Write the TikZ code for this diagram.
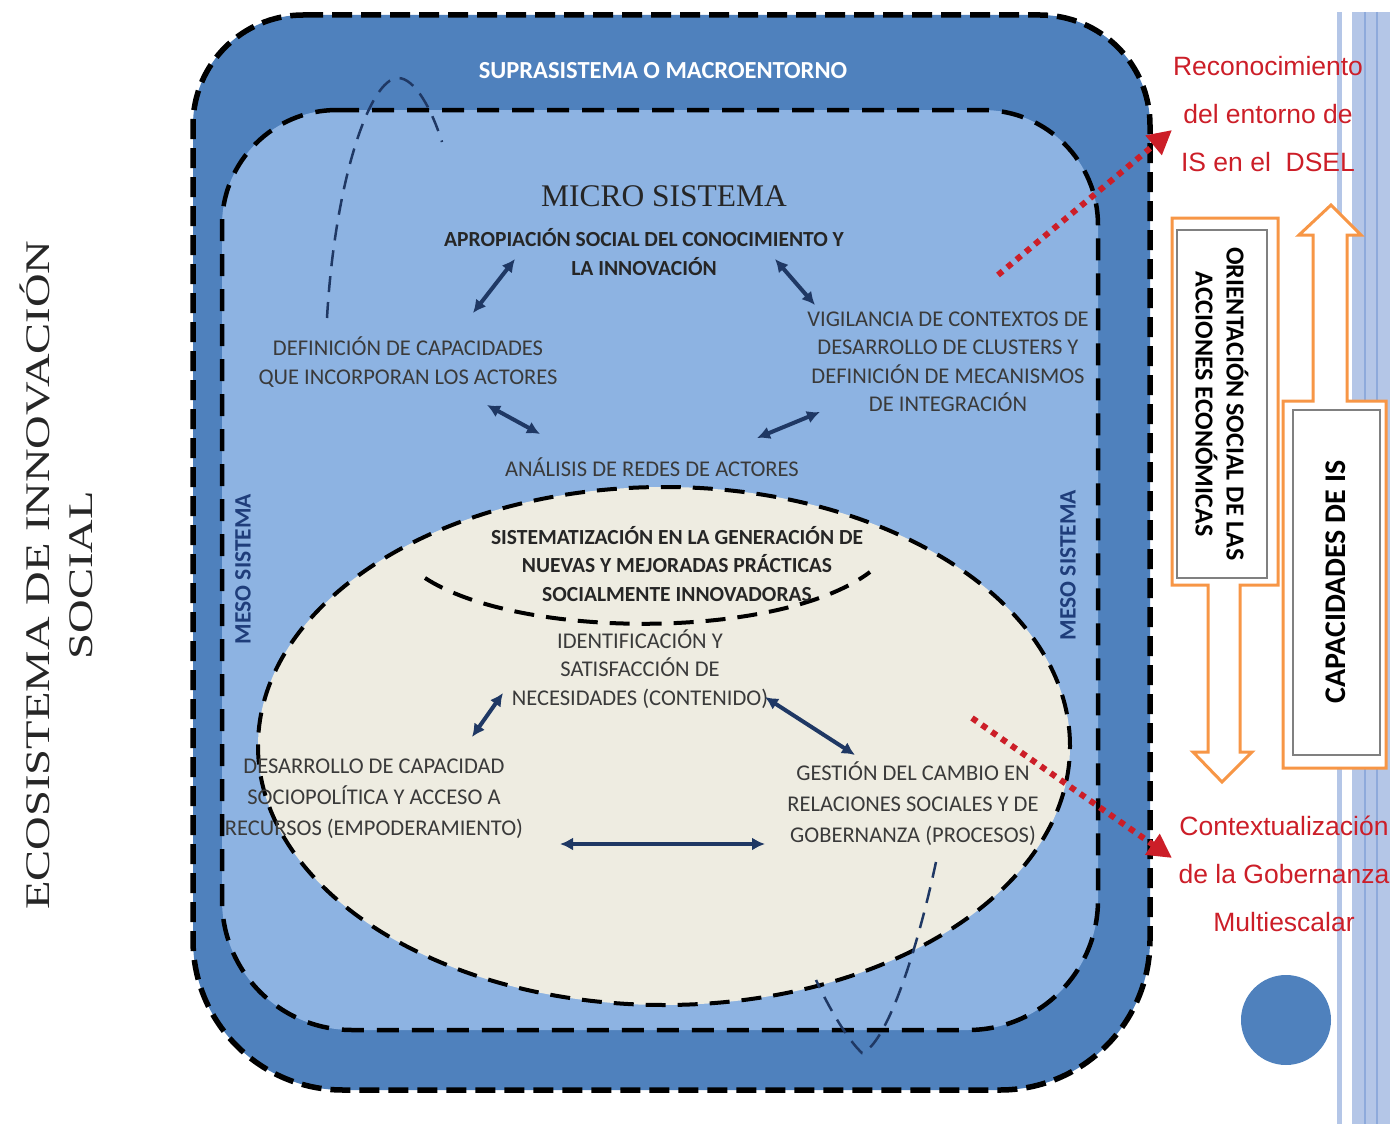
\documentclass[tikz,border=0pt]{standalone}
\usepackage{fontspec}
\setmainfont{Liberation Serif}
\newfontfamily\carlito{Carlito}
\newfontfamily\arialf{Liberation Sans}
\usetikzlibrary{arrows.meta}

\definecolor{macro}{HTML}{4F81BD}
\definecolor{meso}{HTML}{8DB3E2}
\definecolor{micro}{HTML}{EEECE1}
\definecolor{navy}{HTML}{1F3864}
\definecolor{txtgray}{HTML}{3A3A3A}
\definecolor{redis}{HTML}{CC1E28}
\definecolor{orangeb}{HTML}{F79646}
\definecolor{stripe}{HTML}{B4C6E7}
\definecolor{stripedark}{HTML}{8EAADB}
\definecolor{mesotext}{HTML}{1F3D7A}

\tikzset{
  lbl/.style={font=\carlito\fontsize{22.5}{28.5}\selectfont, text=txtgray, align=center, inner sep=0pt},
  blbl/.style={font=\carlito\bfseries\fontsize{21.5}{28.5}\selectfont, text=black!85, align=center, inner sep=0pt},
  redlbl/.style={font=\arialf\fontsize{26.5}{48}\selectfont, text=redis, align=center, inner sep=0pt},
  mesolbl/.style={font=\carlito\bfseries\fontsize{23.5}{26}\selectfont, text=mesotext, rotate=90, inner sep=0pt},
  dblarrow/.style={{Latex[length=13pt,width=13pt]}-{Latex[length=13pt,width=13pt]}, line width=4pt, draw=navy},
  dotarrow/.style={-{Triangle[length=24pt,width=24pt]}, line width=6pt, draw=redis, dash pattern=on 6pt off 6pt},
  orangebox/.style={draw=orangeb, line width=3pt, fill=white},
  graybox/.style={draw=gray, line width=2pt, fill=white, align=center, inner sep=0pt},
  loopline/.style={draw=navy, line width=2.5pt, dash pattern=on 16pt off 10pt}
}

\begin{document}
\begin{tikzpicture}[x=1pt,y=-1pt]
  \useasboundingbox (0,0) rectangle (1393,1124);

  \draw[fill=macro, line width=5.5pt, dash pattern=on 20pt off 9pt]
    (303,15) -- (1040,15) .. controls (1100.7,15) and (1150,64.3) .. (1150,125)
    -- (1150,940) .. controls (1150,1022.8) and (1082.8,1090) .. (1000,1090)
    -- (343,1090) .. controls (260.2,1090) and (193,1022.8) .. (193,940)
    -- (193,125) .. controls (193,64.3) and (242.3,15) .. (303,15) -- cycle;
  \draw[fill=meso, line width=4.5pt, dash pattern=on 22pt off 13pt]
    (337,110) -- (983,110) .. controls (1046.5,110) and (1098,161.5) .. (1098,225)
    -- (1098,900) .. controls (1098,971.8) and (1039.8,1030) .. (968,1030)
    -- (352,1030) .. controls (280.2,1030) and (222,971.8) .. (222,900)
    -- (222,225) .. controls (222,161.5) and (273.5,110) .. (337,110) -- cycle;
  \draw[fill=micro, line width=4pt, dash pattern=on 20pt off 12pt]
    (664,746) ellipse [x radius=406pt, y radius=259pt];
  \draw[line width=4pt, dash pattern=on 20pt off 12pt]
    (425,578) .. controls (520,640) and (780,640) .. (870,572);

  \draw[loopline] (327,318) .. controls (335,180) and (370,78) .. (398,78)
    .. controls (415,78) and (432,110) .. (442,142);
  \draw[loopline] (936,862) .. controls (915,960) and (885,1045) .. (862,1053)
    .. controls (848,1040) and (830,1010) .. (816,980);

  \node[font=\carlito\bfseries\fontsize{24.5}{28}\selectfont, text=white] (supra) at (663,71) {SUPRASISTEMA O MACROENTORNO};
  \node[font=\fontsize{31.5}{36}\selectfont, text=black!85] (micro) at (664,196) {MICRO SISTEMA};
  \node[blbl] (apro) at (644,252) {APROPIACIÓN SOCIAL DEL CONOCIMIENTO Y\\LA INNOVACIÓN};
  \node[lbl] (defin) at (408,362) {DEFINICIÓN DE CAPACIDADES\\QUE INCORPORAN LOS ACTORES};
  \node[lbl] (vigil) at (948,362) {VIGILANCIA DE CONTEXTOS DE\\DESARROLLO DE CLUSTERS Y\\DEFINICIÓN DE MECANISMOS\\DE INTEGRACIÓN};
  \node[lbl] (anal) at (652,467) {ANÁLISIS DE REDES DE ACTORES};
  \node[blbl] (sist) at (677,564) {SISTEMATIZACIÓN EN LA GENERACIÓN DE\\NUEVAS Y MEJORADAS PRÁCTICAS\\SOCIALMENTE INNOVADORAS};
  \node[lbl] (ident) at (640,669) {IDENTIFICACIÓN Y\\SATISFACCIÓN DE\\NECESIDADES (CONTENIDO)};
  \node[lbl, font=\carlito\fontsize{22.5}{31}\selectfont] (desa) at (374,799) {DESARROLLO DE CAPACIDAD\\SOCIOPOLÍTICA Y ACCESO A\\RECURSOS (EMPODERAMIENTO)};
  \node[lbl, font=\carlito\fontsize{22.5}{31}\selectfont] (gest) at (913,804) {GESTIÓN DEL CAMBIO EN\\RELACIONES SOCIALES Y DE\\GOBERNANZA (PROCESOS)};
  \node[mesolbl] (meso1) at (243,569) {MESO SISTEMA};
  \node[mesolbl] (meso2) at (1068,565) {MESO SISTEMA};
  \node[font=\fontsize{34.5}{43}\selectfont, rotate=90, xscale=1.35, transform shape, align=center, text=black!85] (eco) at (56,575) {ECOSISTEMA DE INNOVACIÓN\\SOCIAL};

  \coordinate (a1) at (473,313);
  \coordinate (a2) at (515,259);
  \coordinate (b1) at (775,259);
  \coordinate (b2) at (815,305);
  \coordinate (c1) at (487,405);
  \coordinate (c2) at (540,434);
  \coordinate (d1) at (757,438);
  \coordinate (d2) at (820,412);
  \coordinate (e1) at (472,737);
  \coordinate (e2) at (503,693);
  \coordinate (f1) at (765,697);
  \coordinate (f2) at (855,755);
  \coordinate (g1) at (560,844);
  \coordinate (g2) at (765,844);
  \draw[dblarrow] (a1) -- (a2);
  \draw[dblarrow] (b1) -- (b2);
  \draw[dblarrow] (c1) -- (c2);
  \draw[dblarrow] (d1) -- (d2);
  \draw[dblarrow] (e1) -- (e2);
  \draw[dblarrow] (f1) -- (f2);
  \draw[dblarrow] (g1) -- (g2);

  \fill[stripe] (1337,12) rectangle (1342,1124);
  \fill[stripe] (1352,12) rectangle (1390,1124);
  \draw[stripedark, line width=2pt] (1365,12) -- (1365,1124);
  \draw[stripedark, line width=2pt] (1377,12) -- (1377,1124);

  \draw[orangebox] (1172,218) -- (1278,218) -- (1278,585) -- (1240,585) -- (1240,752)
    -- (1252,752) -- (1222,782) -- (1193,752) -- (1208,752) -- (1208,585) -- (1172,585) -- cycle;
  \draw[orangebox] (1283,768) -- (1386,768) -- (1386,401) -- (1347,401) -- (1347,235)
    -- (1361,235) -- (1331,205) -- (1299,235) -- (1313,235) -- (1313,401) -- (1283,401) -- cycle;
  \node[graybox, rotate=-90, minimum width=348pt, minimum height=90pt,
    font=\carlito\bfseries\fontsize{26}{31}\selectfont] (orient) at (1222,404)
    {ORIENTACIÓN SOCIAL DE LAS\\ACCIONES ECONÓMICAS};
  \node[graybox, rotate=90, minimum width=345pt, minimum height=87pt,
    font=\carlito\bfseries\fontsize{30}{32}\selectfont] (capac) at (1336,582)
    {CAPACIDADES DE IS};

  \node[redlbl] (recon) at (1268,114) {Reconocimiento\\del entorno de\\IS en el~ DSEL};
  \node[redlbl] (contx) at (1284,874) {Contextualización\\de la Gobernanza\\Multiescalar};
  \coordinate (r1) at (998,275);
  \coordinate (r2) at (1172,130);
  \coordinate (s1) at (972,718);
  \coordinate (s2) at (1172,858);
  \draw[dotarrow] (r1) -- (r2);
  \draw[dotarrow] (s1) -- (s2);

  \node[circle, fill=macro, minimum size=90pt] (dot) at (1286,1020) {};
\end{tikzpicture}
\end{document}
